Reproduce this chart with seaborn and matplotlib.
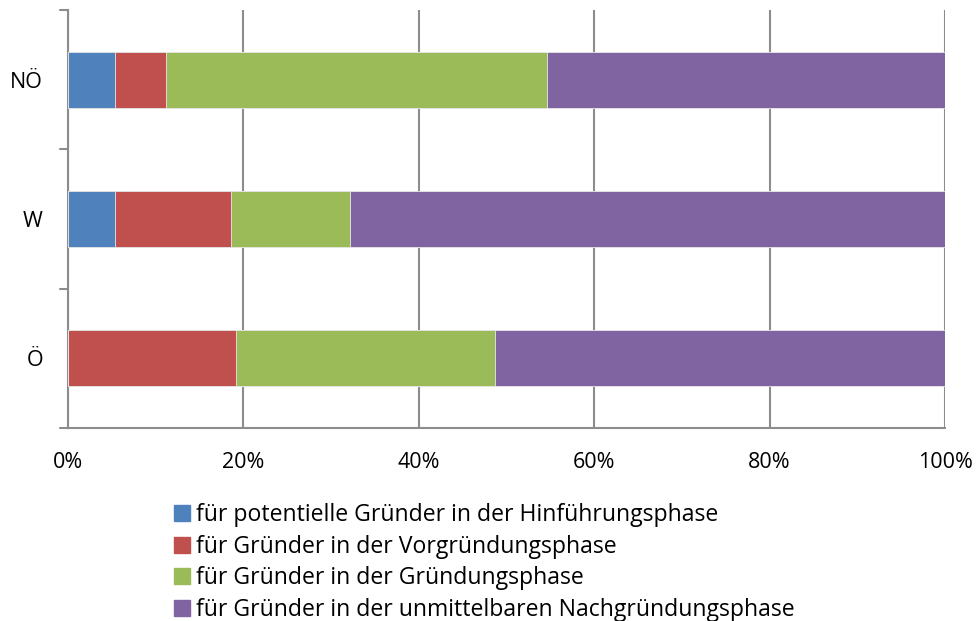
import matplotlib
matplotlib.use("Agg")
import matplotlib.pyplot as plt
import matplotlib.patches as mpatches
import seaborn as sns
import pandas as pd

regionen = ["NÖ", "W", "Ö"]
serien = [
    "für potentielle Gründer in der Hinführungsphase",
    "für Gründer in der Vorgründungsphase",
    "für Gründer in der Gründungsphase",
    "für Gründer in der unmittelbaren Nachgründungsphase",
]
hinfuehrung = [5.4, 5.4, 0.0]
vorgruendung = [5.8, 13.2, 19.1]
gruendung = [43.4, 13.6, 29.6]
nachgruendung = [45.4, 67.8, 51.3]
farben = ["#4f81bd", "#c0504d", "#9bbb59", "#8064a2"]
x_ticks = [0, 20, 40, 60, 80, 100]

sns.set_theme(style="white", rc={"text.color": "black"})
plt.rcParams["font.family"] = ["Open Sans", "DejaVu Sans"]

df = pd.DataFrame(
    {serien[0]: hinfuehrung, serien[1]: vorgruendung,
     serien[2]: gruendung, serien[3]: nachgruendung},
    index=regionen,
)
kum = df.cumsum(axis=1)

fig = plt.figure(figsize=(9.77, 6.21), dpi=100)
ax = fig.add_axes([68 / 977, 1 - 428 / 621, (945 - 68) / 977, (428 - 10) / 621])

# gestapelt: von der Gesamtsumme zur ersten Serie zeichnen
for i in range(len(serien) - 1, -1, -1):
    sns.barplot(x=kum[serien[i]].values, y=regionen, orient="h", color=farben[i],
                saturation=1, width=0.4, ax=ax, edgecolor="#e8e8e8", linewidth=0.6, zorder=3)

ax.set_xlim(0, 100)
ax.set_ylim(2.5, -0.5)
ax.set_xticks(x_ticks)
ax.set_xticklabels([f"{t}%" for t in x_ticks], fontsize=15.5, color="black")
ax.set_yticks(range(len(regionen)))
ax.set_yticklabels(regionen, fontsize=15.5, color="black")
ax.tick_params(axis="y", length=0, pad=18)
ax.tick_params(axis="x", length=6.5, color="#8c8c8c", width=1.5, direction="out", pad=11)
ax.xaxis.grid(True, color="#8c8c8c", linewidth=1.5, zorder=0)
ax.set_axisbelow(True)
ax.set_xlabel("")
ax.set_ylabel("")
for s in ["top", "right"]:
    ax.spines[s].set_visible(False)
for s in ["left", "bottom"]:
    ax.spines[s].set_color("#8c8c8c")
    ax.spines[s].set_linewidth(1.5)

# kleine Striche an den Kategoriegrenzen
for yb in [-0.5, 0.5, 1.5, 2.5]:
    ax.plot([-0.009, 0], [yb, yb], transform=ax.get_yaxis_transform(), color="#8c8c8c",
            linewidth=1.5, clip_on=False)

handles = [mpatches.Patch(color=farben[i], label=serien[i]) for i in range(len(serien))]
leg = fig.legend(handles=handles, loc="upper left", bbox_to_anchor=(174 / 977, 1 - 503 / 621),
                 frameon=False, fontsize=16.6, handlelength=0.69, handleheight=0.69,
                 handletextpad=0.26, labelspacing=0.33, borderpad=0, borderaxespad=0)
for t in leg.get_texts():
    t.set_color("black")

fig.savefig("out.png", dpi=100)
